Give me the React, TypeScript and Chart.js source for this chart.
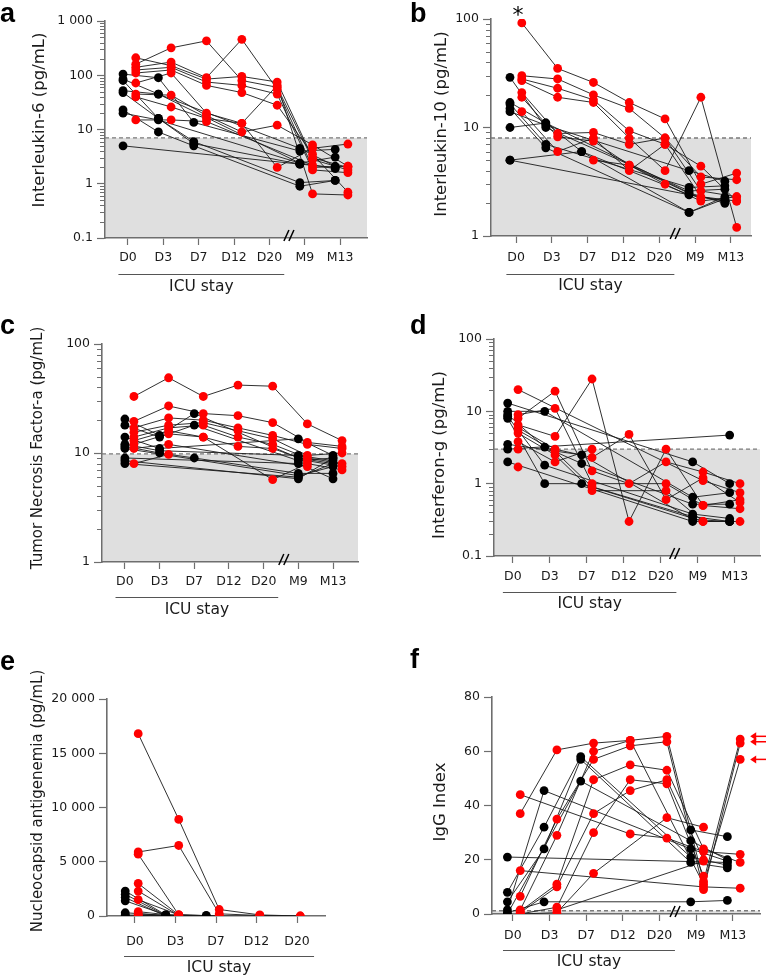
import React, { useEffect, useRef } from "react";
import { Chart, registerables } from "chart.js";

Chart.register(...registerables);

type Val = number | null;

// ---------- shared labels ----------
const TIME_LABELS = ["D0", "D3", "D7", "D12", "D20", "M9", "M13"];
const ICU_LABELS = ["D0", "D3", "D7", "D12", "D20"];

// ---------- a: Interleukin-6 ----------
const IL6_TICKS = [0.1, 1, 10, 100, 1000];
const IL6_THRESHOLD = 7;
const IL6_BLACK: Val[][] = [
  [105, 90, 13.5, null, null, 4.0, 4.3],
  [85, 45, null, null, null, 2.4, 3.1],
  [80, 16, 6, null, null, 1.05, 1.15],
  [52, 45, null, null, null, 4.5, 2.1],
  [48, 16, 5.5, null, null, 2.3, 2.0],
  [23, 9, 5, null, null, 0.9, 1.15],
  [20, 15, null, null, null, 2.4, 1.9],
  [5, null, null, null, null, 2.3, null],
];
const IL6_RED: Val[][] = [
  [210, 150, 85, 95, 75, 3.0, 2.0],
  [160, 320, 430, 80, 60, 2.8, 1.8],
  [140, 175, 90, 460, 55, 2.0, 2.1],
  [125, 140, 75, 65, 45, 1.8, 1.6],
  [110, 125, 65, 48, 28, 3.5, 0.7],
  [72, 110, 20, 13, 2, 4.5, 5.4],
  [45, 43, 18, 9, 12, 5.2, 2.1],
  [40, 26, 16, 13, 65, 0.65, 0.62],
  [15, 15, 14, null, null, 2.2, null],
];

// ---------- b: Interleukin-10 ----------
const IL10_TICKS = [1, 10, 100];
const IL10_THRESHOLD = 8;
const IL10_BLACK: Val[][] = [
  [29, 10, null, null, null, 2.6, 2.7],
  [17, 11, 6, null, null, 2.4, 2.1],
  [16.5, 7, null, null, null, 2.8, 2.9],
  [15, 6.5, null, null, null, 1.65, 2.3],
  [14, 10.5, null, null, null, 4, 3.2],
  [10, 11, null, null, null, 2.5, 2.0],
  [5, null, 6, null, null, 1.65, 2.2],
  [5, null, null, null, null, 2.4, 2.1],
];
const IL10_RED: Val[][] = [
  [92, 35, 26, 17, 12, 3.0, 3.8],
  [30, 28, 20, 15, 8, 2.6, 2.3],
  [28, 23, 18, 9.3, 7, 2.3, 2.1],
  [27, 19, 17, 8, 4, 19, 1.2],
  [21, 8.8, 9, 7, 8, 3.5, 3.3],
  [19, 8.2, 7.5, 4.5, 3, 2.1, 2.3],
  [14, 6, 8, 4, 7, 4.4, 2.1],
  [null, null, 5, 4.5, null, 2.2, null],
];

// ---------- c: TNF-a ----------
const TNF_TICKS = [1, 10, 100];
const TNF_THRESHOLD = 9.8;
const TNF_BLACK: Val[][] = [
  [20.5, 14.5, 23, null, null, 9, 8],
  [18, 14, 18, null, null, 8.5, 9],
  [14, 11, null, null, null, 13.5, 9.5],
  [12, 10.5, null, null, null, 9.5, 8.5],
  [11.5, 10, 9, null, null, 6.5, 6.5],
  [11, null, null, null, null, 6.2, 7.5],
  [9, null, null, null, null, 8, 5.8],
  [8.5, null, null, null, null, 5.8, 9],
  [8, null, null, null, null, 6.0, 8],
];
const TNF_RED: Val[][] = [
  [33, 49, 33, 42, 41, 18.5, 13],
  [19.5, 27, 23, 22, 19, 12.5, 11.5],
  [17, 21, 20, 17, 14.5, 12, 11],
  [15.5, 18, 19, 16, 13.5, 9.5, 10],
  [14, 17, 18, 14, 12, 9, 8],
  [13, 16, 14, 11.5, 11, 8.5, 7.5],
  [12, 15, 14, null, 5.7, 8, 7],
  [11, 12, null, null, null, 7.5, null],
  [8, 9.7, null, null, null, null, null],
];

// ---------- d: Interferon-g ----------
const IFN_TICKS = [0.1, 1, 10, 100];
const IFN_THRESHOLD = 3;
const IFN_BLACK: Val[][] = [
  [13, null, null, null, null, 2, 1],
  [10, 10, null, null, null, 0.65, 0.75],
  [9, 3.2, 1.9, null, null, 0.52, 0.52],
  [8.5, 1.8, null, null, null, 0.38, 0.33],
  [8, 1, 1, null, null, 0.35, 0.3],
  [3.5, null, 2.5, null, null, 0.32, 0.3],
  [3, null, null, null, null, null, 4.7],
  [2, null, null, null, null, 0.3, 0.3],
];
const IFN_RED: Val[][] = [
  [20, null, null, null, null, 1.1, 0.75],
  [9, 11, 1, null, 1, 0.5, 0.6],
  [8, 19, 1.5, 1, 2, 1.45, 1.0],
  [6.5, 4.5, 28, 0.3, 3, 0.5, 0.45],
  [6, 3, 2.3, 4.8, 0.6, 1.2, 0.55],
  [5.5, 2.8, 0.9, null, null, 0.3, 0.3],
  [5, 2.5, 0.8, null, 0.8, 0.3, null],
  [3.8, 2, 3, null, null, null, null],
  [3, null, null, null, null, null, null],
  [1.7, null, null, null, null, null, null],
];

// ---------- e: Nucleocapsid antigenemia ----------
const NC_TICKS = [0, 5000, 10000, 15000, 20000];
const NC_BLACK: Val[][] = [
  [2300, 100, 0, null, null],
  [2000, 50, null, null, null],
  [1700, 0, null, null, null],
  [1400, 100, 50, null, null],
  [300, 50, null, null, null],
  [100, 0, null, null, null],
  [0, 0, null, null, null],
];
const NC_RED: Val[][] = [
  [16800, 8900, 600, 100, 0],
  [5900, 6500, 200, 50, 0],
  [5700, 100, 0, 0, null],
  [3000, 100, 0, null, null],
  [2300, 50, null, null, null],
  [1500, 100, null, null, null],
  [400, 0, null, null, null],
  [200, 0, null, null, null],
  [100, 0, null, null, null],
  [0, 0, null, null, null],
];

// ---------- f: IgG Index ----------
const IGG_TICKS = [0, 20, 40, 60, 80];
const IGG_THRESHOLD = 1.2;
const IGG_ARROWS = [65.5, 63.5, 57];
const IGG_BLACK: Val[][] = [
  [21, null, null, null, null, null, 19],
  [8, 32, 58, null, null, 21, 18],
  [4.5, 24, 57, null, null, 19, 17],
  [1.5, 45.5, null, null, null, 24, 19.5],
  [0.5, 4.5, null, null, null, 4.5, 5],
  [0, null, 49, null, null, 27, 20],
  [null, null, null, null, null, 31, 28.5],
];
const IGG_RED: Val[][] = [
  [44, null, null, 29.5, 28, 23, 22],
  [37, 60.5, 63, 64, 65.5, 12, 64.5],
  [16, null, null, null, null, 10, 9.5],
  [6.5, 35, 57, 62, 63.5, 9, 63],
  [1.5, 29, 60, 64, null, 11, 57],
  [1, 11, 49.5, 55, 53, 24, 19],
  [0.5, 10, 37, 45.5, 49.5, 20, null],
  [0, 2.5, 30, 49.5, 48, 14, null],
  [0, 0.5, 15, null, 35.5, 32, null],
  [null, 1.5, null, null, null, 19.5, null],
];

// ---------- styling ----------
const FONT = "'DejaVu Sans', Verdana, sans-serif";
const AXIS = "#6e6e6e";
const TEXT = "#1a1a1a";
const RED = "#ff0000";
const BLACK = "#000000";
const LINE = "#1a1a1a";

interface Panel {
  letter: string;
  title: string;
  titleSize: number;
  labels: string[];
  black: Val[][];
  red: Val[][];
  log: boolean;
  yMin: number;
  yMax: number;
  yTicks: number[];
  bandTop: number | null;
  box: { left: number; top: number; width: number; height: number };
  plot: { L: number; T: number; R: number; B: number };
  xMin: number;
  xMax: number;
  blackOff: number;
  redOff: number;
  breakAt: number | null;
  xPad: number;
  titlePos: [number, number];
  letterPos: [number, number];
  icuLine: number;
  icuText: number;
  arrows?: number[];
  star?: [number, number];
}

const PANELS: Panel[] = [
  {
    letter: "a", title: "Interleukin-6 (pg/mL)", titleSize: 16.5, labels: TIME_LABELS,
    black: IL6_BLACK, red: IL6_RED, log: true, yMin: 0.1, yMax: 1000, yTicks: IL6_TICKS,
    bandTop: IL6_THRESHOLD,
    box: { left: 0, top: 0, width: 383, height: 305 },
    plot: { L: 105, T: 21, R: 367, B: 238 },
    xMin: -0.65, xMax: 6.76, blackOff: -0.14, redOff: 0.22, breakAt: 4.58, xPad: 5,
    titlePos: [40, 120], letterPos: [0, 22], icuLine: 36, icuText: 49,
  },
  {
    letter: "b", title: "Interleukin-10 (pg/mL)", titleSize: 16.5, labels: TIME_LABELS,
    black: IL10_BLACK, red: IL10_RED, log: true, yMin: 1, yMax: 100, yTicks: IL10_TICKS,
    bandTop: IL10_THRESHOLD,
    box: { left: 383, top: 0, width: 383, height: 305 },
    plot: { L: 491, T: 19, R: 751, B: 236 },
    xMin: -0.7, xMax: 6.56, blackOff: -0.17, redOff: 0.16, breakAt: 4.47, xPad: 7,
    titlePos: [442, 124], letterPos: [410, 22], icuLine: 38, icuText: 50,
    star: [518, 16],
  },
  {
    letter: "c", title: "Tumor Necrosis Factor-a (pg/mL)", titleSize: 15, labels: TIME_LABELS,
    black: TNF_BLACK, red: TNF_RED, log: true, yMin: 1, yMax: 100, yTicks: TNF_TICKS,
    bandTop: TNF_THRESHOLD,
    box: { left: 0, top: 305, width: 383, height: 330 },
    plot: { L: 102, T: 344, R: 358, B: 562 },
    xMin: -0.66, xMax: 6.72, blackOff: 0, redOff: 0.26, breakAt: 4.61, xPad: 5,
    titlePos: [38, 448], letterPos: [0, 334], icuLine: 35, icuText: 48,
  },
  {
    letter: "d", title: "Interferon-g (pg/mL)", titleSize: 16.5, labels: TIME_LABELS,
    black: IFN_BLACK, red: IFN_RED, log: true, yMin: 0.1, yMax: 100, yTicks: IFN_TICKS,
    bandTop: IFN_THRESHOLD,
    box: { left: 383, top: 305, width: 383, height: 330 },
    plot: { L: 494, T: 339, R: 760, B: 556 },
    xMin: -0.51, xMax: 6.68, blackOff: -0.14, redOff: 0.14, breakAt: 4.4, xPad: 6,
    titlePos: [440, 455], letterPos: [410, 334], icuLine: 36, icuText: 48,
  },
  {
    letter: "e", title: "Nucleocapsid antigenemia (pg/mL)", titleSize: 15, labels: ICU_LABELS,
    black: NC_BLACK, red: NC_RED, log: false, yMin: 0, yMax: 20000, yTicks: NC_TICKS,
    bandTop: null,
    box: { left: 0, top: 640, width: 383, height: 336 },
    plot: { L: 107, T: 699, R: 325, B: 916 },
    xMin: -0.69, xMax: 4.69, blackOff: -0.24, redOff: 0.08, breakAt: null, xPad: 11,
    titlePos: [38, 801], letterPos: [0, 670], icuLine: 40, icuText: 52,
  },
  {
    letter: "f", title: "IgG Index", titleSize: 16.5, labels: TIME_LABELS,
    black: IGG_BLACK, red: IGG_RED, log: false, yMin: 0, yMax: 80, yTicks: IGG_TICKS,
    bandTop: IGG_THRESHOLD,
    box: { left: 383, top: 640, width: 383, height: 336 },
    plot: { L: 492, T: 697, R: 760, B: 914 },
    xMin: -0.57, xMax: 6.74, blackOff: -0.15, redOff: 0.2, breakAt: 4.45, xPad: 7,
    titlePos: [441, 802], letterPos: [410, 668], icuLine: 36, icuText: 48,
    arrows: IGG_ARROWS,
  },
];

function fmt(v: number): string {
  if (v >= 1000) return String(v).replace(/\B(?=(\d{3})+(?!\d))/g, " ");
  return String(v);
}

function makeDeco(p: Panel) {
  return {
    id: "deco" + p.letter,
    beforeDatasetsDraw(chart: any) {
      const { ctx, chartArea: ca, scales } = chart;
      const ys = scales.y;
      if (p.bandTop != null) {
        const yt = ys.getPixelForValue(p.bandTop);
        ctx.save();
        ctx.fillStyle = "#dfdfdf";
        ctx.fillRect(ca.left + 1, yt, ca.right - ca.left - 1, ca.bottom - yt - 1);
        ctx.setLineDash([4, 3]);
        ctx.strokeStyle = "#7a7a7a";
        ctx.lineWidth = 1.3;
        ctx.beginPath();
        ctx.moveTo(ca.left, yt);
        ctx.lineTo(ca.right, yt);
        ctx.stroke();
        ctx.restore();
      }
    },
    afterDraw(chart: any) {
      const { ctx, chartArea: ca, scales } = chart;
      const xs = scales.x;
      const ys = scales.y;
      const ox = p.box.left;
      const oy = p.box.top;
      ctx.save();
      // minor log ticks
      if (p.log) {
        ctx.strokeStyle = AXIS;
        ctx.lineWidth = 1;
        const k0 = Math.floor(Math.log10(p.yMin));
        const k1 = Math.ceil(Math.log10(p.yMax));
        for (let k = k0; k < k1; k++) {
          for (let m = 2; m <= 9; m++) {
            const v = m * Math.pow(10, k);
            if (v <= p.yMin || v >= p.yMax) continue;
            const y = Math.round(ys.getPixelForValue(v)) + 0.5;
            ctx.beginPath();
            ctx.moveTo(ca.left, y);
            ctx.lineTo(ca.left - 5, y);
            ctx.stroke();
          }
        }
      }
      // axis break
      if (p.breakAt != null) {
        const bx = xs.getPixelForValue(p.breakAt);
        const by = ca.bottom;
        ctx.strokeStyle = "#000";
        ctx.lineWidth = 1.5;
        for (const dx of [-3, 2]) {
          ctx.beginPath();
          ctx.moveTo(bx + dx - 3, by + 3);
          ctx.lineTo(bx + dx + 2, by - 8);
          ctx.stroke();
        }
      }
      // ICU bracket
      const x0 = xs.getPixelForValue(-0.27);
      const x1 = xs.getPixelForValue(4.42);
      const ly = ca.bottom + p.icuLine + 0.5;
      ctx.strokeStyle = "#555";
      ctx.lineWidth = 1;
      ctx.beginPath();
      ctx.moveTo(x0, ly);
      ctx.lineTo(x1, ly);
      ctx.stroke();
      ctx.fillStyle = TEXT;
      ctx.font = "15.5px " + FONT;
      ctx.textAlign = "center";
      ctx.textBaseline = "middle";
      ctx.fillText("ICU stay", (x0 + x1) / 2, ca.bottom + p.icuText);
      // y title
      ctx.save();
      ctx.translate(p.titlePos[0] - ox, p.titlePos[1] - oy);
      ctx.rotate(-Math.PI / 2);
      ctx.font = p.titleSize + "px " + FONT;
      ctx.textAlign = "center";
      ctx.textBaseline = "middle";
      ctx.fillText(p.title, 0, 0);
      ctx.restore();
      // panel letter
      ctx.font = "bold 27px 'Liberation Sans', Arial, sans-serif";
      ctx.textAlign = "left";
      ctx.textBaseline = "alphabetic";
      ctx.fillStyle = "#000";
      ctx.fillText(p.letter, p.letterPos[0] - ox, p.letterPos[1] - oy);
      // asterisk
      if (p.star) {
        ctx.font = "22px " + FONT;
        ctx.textAlign = "center";
        ctx.textBaseline = "middle";
        ctx.fillText("*", p.star[0] - ox, p.star[1] - oy);
      }
      // arrows
      if (p.arrows) {
        ctx.strokeStyle = RED;
        ctx.fillStyle = RED;
        ctx.lineWidth = 1.5;
        const tip = xs.getPixelForValue(6 + p.redOff) + 10;
        for (const v of p.arrows) {
          const y = ys.getPixelForValue(v);
          ctx.beginPath();
          ctx.moveTo(tip + 3, y);
          ctx.lineTo(tip + 16, y);
          ctx.stroke();
          ctx.beginPath();
          ctx.moveTo(tip, y);
          ctx.lineTo(tip + 6, y - 4);
          ctx.lineTo(tip + 6, y + 4);
          ctx.closePath();
          ctx.fill();
        }
      }
      ctx.restore();
    },
  };
}

function PanelChart({ p }: { p: Panel }) {
  const ref = useRef<HTMLCanvasElement>(null);
  useEffect(() => {
    const canvas = ref.current;
    if (!canvas) return;
    const datasets: any[] = [];
    const groups = [
      ...p.black.map((s) => ({ s, c: BLACK, off: p.blackOff })),
      ...p.red.map((s) => ({ s, c: RED, off: p.redOff })),
    ];
    for (const g of groups) {
      const data = g.s
        .map((v, i) => (v == null ? null : { x: i + g.off, y: v }))
        .filter((d) => d !== null);
      datasets.push({
        type: "line", data, borderColor: LINE, borderWidth: 0.9,
        pointRadius: 0, fill: false, tension: 0, order: 2,
      });
      datasets.push({
        type: "line", data, showLine: false, pointRadius: 4.4,
        pointBackgroundColor: g.c, pointBorderWidth: 0, pointBorderColor: g.c, order: 1,
      });
    }
    const tickFont = { family: FONT, size: 12.5 };
    const chart = new Chart(canvas, {
      type: "line",
      data: { datasets },
      options: {
        responsive: false,
        animation: false,
        devicePixelRatio: 1,
        events: [],
        layout: {
          padding: {
            left: 0,
            top: p.plot.T - p.box.top,
            right: p.box.left + p.box.width - p.plot.R,
            bottom: 0,
          },
        },
        plugins: { legend: { display: false }, tooltip: { enabled: false } },
        scales: {
          x: {
            type: "linear",
            min: p.xMin,
            max: p.xMax,
            afterBuildTicks: (s: any) => {
              s.ticks = p.labels.map((_, i) => ({ value: i }));
            },
            afterFit: (s: any) => {
              s.height = p.box.top + p.box.height - p.plot.B;
            },
            ticks: {
              autoSkip: false,
              maxRotation: 0,
              padding: p.xPad,
              color: TEXT,
              font: tickFont,
              callback: (_v: any, i: number) => p.labels[i] ?? "",
            },
            grid: { drawOnChartArea: false, tickLength: 7, tickColor: AXIS, tickWidth: 1.2 },
            border: { color: AXIS, width: 1.6 },
          },
          y: {
            type: p.log ? "logarithmic" : "linear",
            min: p.yMin,
            max: p.yMax,
            afterBuildTicks: (s: any) => {
              s.ticks = p.yTicks.map((v) => ({ value: v }));
            },
            afterFit: (s: any) => {
              s.width = p.plot.L - p.box.left;
            },
            ticks: {
              autoSkip: false,
              padding: 4,
              color: TEXT,
              font: tickFont,
              callback: (v: any) => fmt(Number(v)),
            },
            grid: { drawOnChartArea: false, tickLength: 8, tickColor: AXIS, tickWidth: 1.2 },
            border: { color: AXIS, width: 1.6 },
          },
        },
      } as any,
      plugins: [makeDeco(p)],
    });
    return () => chart.destroy();
  }, [p]);
  return (
    <canvas
      ref={ref}
      width={p.box.width}
      height={p.box.height}
      style={{
        position: "absolute",
        left: p.box.left,
        top: p.box.top,
        width: p.box.width,
        height: p.box.height,
      }}
    />
  );
}

export default function App() {
  return (
    <div
      style={{
        position: "absolute",
        left: 0,
        top: 0,
        width: 766,
        height: 976,
        background: "#fff",
        overflow: "hidden",
      }}
    >
      {PANELS.map((p) => (
        <PanelChart key={p.letter} p={p} />
      ))}
    </div>
  );
}
